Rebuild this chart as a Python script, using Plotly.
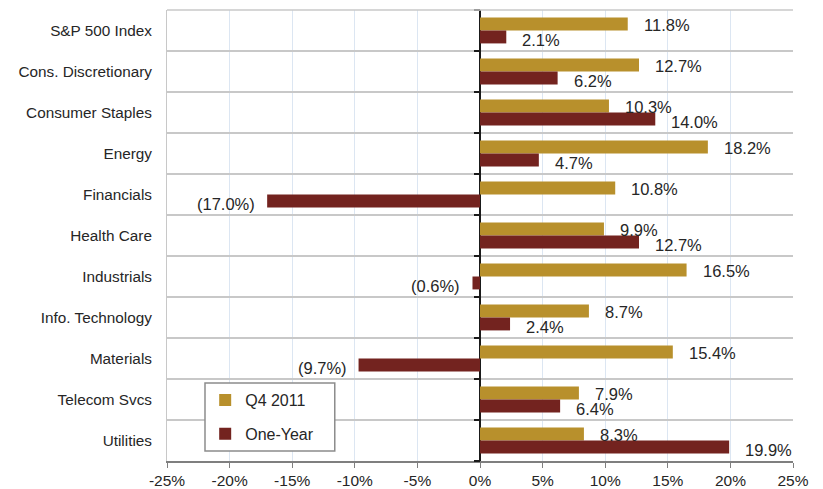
import plotly.graph_objects as go

categories = ["S&P 500 Index", "Cons. Discretionary", "Consumer Staples", "Energy",
              "Financials", "Health Care", "Industrials", "Info. Technology",
              "Materials", "Telecom Svcs", "Utilities"]
q4_2011 = [11.8, 12.7, 10.3, 18.2, 10.8, 9.9, 16.5, 8.7, 15.4, 7.9, 8.3]
one_year = [2.1, 6.2, 14.0, 4.7, -17.0, 12.7, -0.6, 2.4, -9.7, 6.4, 19.9]
x_tickvals = [-25, -20, -15, -10, -5, 0, 5, 10, 15, 20, 25]
x_ticktext = ["-25%", "-20%", "-15%", "-10%", "-5%", "0%", "5%", "10%", "15%", "20%", "25%"]

GOLD = "#B8902C"
MAROON = "#73231F"
FONT = "Liberation Sans"
TXT = "#262626"


def fmt(v):
    return f"({abs(v):.1f}%)" if v < 0 else f"{v:.1f}%"


fig = go.Figure()
fig.add_trace(go.Bar(y=categories, x=q4_2011, orientation="h", name="Q4 2011",
                     marker=dict(color=GOLD, line=dict(width=0)), legendgroup="a"))
fig.add_trace(go.Bar(y=categories, x=one_year, orientation="h", name="One-Year",
                     marker=dict(color=MAROON, line=dict(width=0)), legendgroup="b"))

annotations = []
for series, ys in ((q4_2011, 5.5), (one_year, -9)):
    for cat, v in zip(categories, series):
        annotations.append(dict(
            x=v, y=cat, xref="x", yref="y", text=fmt(v), showarrow=False,
            xanchor="left" if v >= 0 else "right",
            xshift=14 if v >= 0 else -10, yshift=ys,
            font=dict(family=FONT, size=16.5, color=TXT)))

# y-axis tick marks at the zero line
fig.add_trace(go.Scatter(x=[None], y=[None], yaxis="y2", showlegend=False))

fig.update_layout(
    width=823, height=489,
    margin=dict(l=167, r=30, t=10, b=28, autoexpand=False),
    paper_bgcolor="white", plot_bgcolor="white",
    barmode="group", bargap=0.37, bargroupgap=0,
    font=dict(family=FONT, size=15, color=TXT),
    xaxis=dict(range=[-25, 25], tickvals=x_tickvals, ticktext=x_ticktext,
               showgrid=True, gridcolor="#DCE6F2", gridwidth=1,
               zeroline=True, zerolinecolor="#1a1a1a", zerolinewidth=1.5,
               showline=True, linecolor="#7f7f7f", linewidth=1.5,
               ticks="outside", ticklen=5, tickcolor="#7f7f7f", automargin=False,
               tickfont=dict(family=FONT, size=15.5, color=TXT), fixedrange=True),
    yaxis=dict(autorange="reversed", type="category", tickson="boundaries",
               showgrid=True, gridcolor="#C8C8C8", gridwidth=1.5,
               ticks="", ticklabelstandoff=11, automargin=False,
               showline=True, linecolor="#C8C8C8", linewidth=1, mirror=False,
               tickfont=dict(family=FONT, size=15.3, color=TXT)),
    yaxis2=dict(overlaying="y", anchor="free", position=0.5, side="left",
                range=[10.5, -0.5], tickvals=[i - 0.5 for i in range(12)],
                ticktext=[""] * 12, ticks="outside", ticklen=6, tickcolor="#1a1a1a",
                tickwidth=1.5, showgrid=False, zeroline=False, showline=False,
                automargin=False),
    legend=dict(x=0.061, y=0.173, xanchor="left", yanchor="top",
                bgcolor="rgba(0,0,0,0)", borderwidth=0,
                font=dict(family=FONT, size=16, color=TXT),
                tracegroupgap=10, traceorder="grouped", itemwidth=30),
    annotations=annotations,
    shapes=[dict(type="line", xref="paper", yref="paper", x0=0, x1=1, y0=1, y1=1,
                 line=dict(color="#C8C8C8", width=1.5)),
            dict(type="rect", xref="paper", yref="paper", x0=0.0607, x1=0.268,
                 y0=0.022, y1=0.173, fillcolor="white", layer="above",
                 line=dict(color="#8c8c8c", width=1.5))],
)

fig.write_html("out.html", config={"displayModeBar": False},
               post_script="document.body.style.margin='0';")
